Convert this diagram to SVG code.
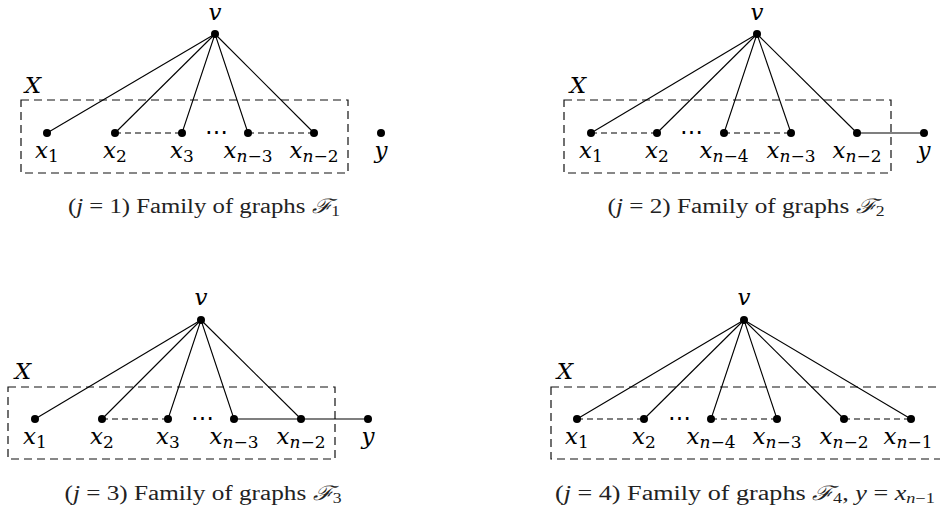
<svg xmlns="http://www.w3.org/2000/svg" width="940" height="511" viewBox="0 0 940 511">
<style>
.bg{fill:#fff}
.e{stroke:#000;stroke-width:1.1;fill:none}
.d{stroke:#000;stroke-width:1.1;fill:none;stroke-dasharray:6 4}
.box{stroke:#111;stroke-width:1.2;fill:none;stroke-dasharray:8 5}
.n{fill:#000}
.lb{font-family:"DejaVu Serif","Liberation Serif",serif;font-size:23px;fill:#000;text-anchor:middle}
.i{font-style:italic}
.sb{font-size:17px}
.cap{font-family:"Liberation Serif","DejaVu Serif",serif;font-size:20px;fill:#222;text-anchor:middle}
.cal{font-family:"DejaVu Serif",serif;font-style:italic}
</style>
<rect class="bg" width="940" height="511"/>

<!-- Panel boxes -->
<rect class="box" x="21" y="100" width="327" height="73"/>
<rect class="box" x="564" y="100" width="327" height="73"/>
<rect class="box" x="8" y="387" width="327" height="72"/>
<rect class="box" x="551" y="387" width="400" height="72"/>

<!-- X labels -->
<text class="lb i" x="33" y="93">X</text>
<text class="lb i" x="578" y="93">X</text>
<text class="lb i" x="23" y="379">X</text>
<text class="lb i" x="565" y="379">X</text>

<g id="connectors">
<!-- Panel 1 -->
<line class="e" x1="215" y1="34" x2="47" y2="133"/>
<line class="e" x1="215" y1="34" x2="115" y2="133"/>
<line class="e" x1="215" y1="34" x2="182" y2="133"/>
<line class="e" x1="215" y1="34" x2="248" y2="133"/>
<line class="e" x1="215" y1="34" x2="314" y2="133"/>
<line class="d" x1="115" y1="133" x2="182" y2="133"/>
<line class="d" x1="248" y1="133" x2="314" y2="133"/>
<!-- Panel 2 -->
<line class="e" x1="757" y1="34" x2="591" y2="133"/>
<line class="e" x1="757" y1="34" x2="657" y2="133"/>
<line class="e" x1="757" y1="34" x2="724" y2="133"/>
<line class="e" x1="757" y1="34" x2="791" y2="133"/>
<line class="e" x1="757" y1="34" x2="857" y2="133"/>
<line class="d" x1="591" y1="133" x2="657" y2="133"/>
<line class="d" x1="724" y1="133" x2="791" y2="133"/>
<line class="e" x1="857" y1="133" x2="924" y2="133"/>
<!-- Panel 3 -->
<line class="e" x1="201" y1="320" x2="35" y2="419"/>
<line class="e" x1="201" y1="320" x2="102" y2="419"/>
<line class="e" x1="201" y1="320" x2="168" y2="419"/>
<line class="e" x1="201" y1="320" x2="234" y2="419"/>
<line class="e" x1="201" y1="320" x2="301" y2="419"/>
<line class="d" x1="102" y1="419" x2="168" y2="419"/>
<line class="e" x1="234" y1="419" x2="301" y2="419"/>
<line class="e" x1="301" y1="419" x2="368" y2="419"/>
<!-- Panel 4 -->
<line class="e" x1="744" y1="320" x2="577" y2="419"/>
<line class="e" x1="744" y1="320" x2="644" y2="419"/>
<line class="e" x1="744" y1="320" x2="711" y2="419"/>
<line class="e" x1="744" y1="320" x2="777" y2="419"/>
<line class="e" x1="744" y1="320" x2="844" y2="419"/>
<line class="e" x1="744" y1="320" x2="911" y2="419"/>
<line class="d" x1="577" y1="419" x2="644" y2="419"/>
<line class="d" x1="711" y1="419" x2="777" y2="419"/>
<line class="d" x1="844" y1="419" x2="911" y2="419"/>
</g>

<!-- Panel 1 nodes -->
<g id="p1-v"><circle class="n" cx="215" cy="34" r="4"/><text class="lb i" x="215" y="20">v</text></g>
<g id="p1-x1"><circle class="n" cx="47" cy="133" r="4"/><text class="lb" x="47" y="158"><tspan class="i">x</tspan><tspan class="sb" dy="4">1</tspan></text></g>
<g id="p1-x2"><circle class="n" cx="115" cy="133" r="4"/><text class="lb" x="115" y="158"><tspan class="i">x</tspan><tspan class="sb" dy="4">2</tspan></text></g>
<g id="p1-x3"><circle class="n" cx="182" cy="133" r="4"/><text class="lb" x="182" y="158"><tspan class="i">x</tspan><tspan class="sb" dy="4">3</tspan></text></g>
<g id="p1-xn3"><circle class="n" cx="248" cy="133" r="4"/><text class="lb" x="248" y="158"><tspan class="i">x</tspan><tspan class="sb i" dy="4">n</tspan><tspan class="sb">−3</tspan></text></g>
<g id="p1-xn2"><circle class="n" cx="314" cy="133" r="4"/><text class="lb" x="314" y="158"><tspan class="i">x</tspan><tspan class="sb i" dy="4">n</tspan><tspan class="sb">−2</tspan></text></g>
<g id="p1-y"><circle class="n" cx="381" cy="133" r="4"/><text class="lb i" x="381" y="158">y</text></g>
<text class="lb" x="216" y="139">⋯</text>

<!-- Panel 2 nodes -->
<g id="p2-v"><circle class="n" cx="757" cy="34" r="4"/><text class="lb i" x="757" y="20">v</text></g>
<g id="p2-x1"><circle class="n" cx="591" cy="133" r="4"/><text class="lb" x="591" y="158"><tspan class="i">x</tspan><tspan class="sb" dy="4">1</tspan></text></g>
<g id="p2-x2"><circle class="n" cx="657" cy="133" r="4"/><text class="lb" x="657" y="158"><tspan class="i">x</tspan><tspan class="sb" dy="4">2</tspan></text></g>
<g id="p2-xn4"><circle class="n" cx="724" cy="133" r="4"/><text class="lb" x="724" y="158"><tspan class="i">x</tspan><tspan class="sb i" dy="4">n</tspan><tspan class="sb">−4</tspan></text></g>
<g id="p2-xn3"><circle class="n" cx="791" cy="133" r="4"/><text class="lb" x="791" y="158"><tspan class="i">x</tspan><tspan class="sb i" dy="4">n</tspan><tspan class="sb">−3</tspan></text></g>
<g id="p2-xn2"><circle class="n" cx="857" cy="133" r="4"/><text class="lb" x="857" y="158"><tspan class="i">x</tspan><tspan class="sb i" dy="4">n</tspan><tspan class="sb">−2</tspan></text></g>
<g id="p2-y"><circle class="n" cx="924" cy="133" r="4"/><text class="lb i" x="924" y="158">y</text></g>
<text class="lb" x="691" y="139">⋯</text>

<!-- Panel 3 nodes -->
<g id="p3-v"><circle class="n" cx="201" cy="320" r="4"/><text class="lb i" x="201" y="305">v</text></g>
<g id="p3-x1"><circle class="n" cx="35" cy="419" r="4"/><text class="lb" x="35" y="444"><tspan class="i">x</tspan><tspan class="sb" dy="4">1</tspan></text></g>
<g id="p3-x2"><circle class="n" cx="102" cy="419" r="4"/><text class="lb" x="102" y="444"><tspan class="i">x</tspan><tspan class="sb" dy="4">2</tspan></text></g>
<g id="p3-x3"><circle class="n" cx="168" cy="419" r="4"/><text class="lb" x="168" y="444"><tspan class="i">x</tspan><tspan class="sb" dy="4">3</tspan></text></g>
<g id="p3-xn3"><circle class="n" cx="234" cy="419" r="4"/><text class="lb" x="234" y="444"><tspan class="i">x</tspan><tspan class="sb i" dy="4">n</tspan><tspan class="sb">−3</tspan></text></g>
<g id="p3-xn2"><circle class="n" cx="301" cy="419" r="4"/><text class="lb" x="301" y="444"><tspan class="i">x</tspan><tspan class="sb i" dy="4">n</tspan><tspan class="sb">−2</tspan></text></g>
<g id="p3-y"><circle class="n" cx="368" cy="419" r="4"/><text class="lb i" x="368" y="444">y</text></g>
<text class="lb" x="202" y="425">⋯</text>

<!-- Panel 4 nodes -->
<g id="p4-v"><circle class="n" cx="744" cy="320" r="4"/><text class="lb i" x="744" y="305">v</text></g>
<g id="p4-x1"><circle class="n" cx="577" cy="419" r="4"/><text class="lb" x="577" y="444"><tspan class="i">x</tspan><tspan class="sb" dy="4">1</tspan></text></g>
<g id="p4-x2"><circle class="n" cx="644" cy="419" r="4"/><text class="lb" x="644" y="444"><tspan class="i">x</tspan><tspan class="sb" dy="4">2</tspan></text></g>
<g id="p4-xn4"><circle class="n" cx="711" cy="419" r="4"/><text class="lb" x="711" y="444"><tspan class="i">x</tspan><tspan class="sb i" dy="4">n</tspan><tspan class="sb">−4</tspan></text></g>
<g id="p4-xn3"><circle class="n" cx="777" cy="419" r="4"/><text class="lb" x="777" y="444"><tspan class="i">x</tspan><tspan class="sb i" dy="4">n</tspan><tspan class="sb">−3</tspan></text></g>
<g id="p4-xn2"><circle class="n" cx="844" cy="419" r="4"/><text class="lb" x="844" y="444"><tspan class="i">x</tspan><tspan class="sb i" dy="4">n</tspan><tspan class="sb">−2</tspan></text></g>
<g id="p4-xn1"><circle class="n" cx="911" cy="419" r="4"/><text class="lb" x="908" y="444"><tspan class="i">x</tspan><tspan class="sb i" dy="4">n</tspan><tspan class="sb">−1</tspan></text></g>
<text class="lb" x="679" y="425">⋯</text>

<!-- Captions -->
<text class="cap" x="204" y="213" textLength="272" lengthAdjust="spacingAndGlyphs">(<tspan class="i">j</tspan> = 1) Family of graphs <tspan class="cal">ℱ</tspan><tspan font-size="14" dy="3">1</tspan></text>
<text class="cap" x="746" y="213" textLength="277" lengthAdjust="spacingAndGlyphs">(<tspan class="i">j</tspan> = 2) Family of graphs <tspan class="cal">ℱ</tspan><tspan font-size="14" dy="3">2</tspan></text>
<text class="cap" x="203" y="500" textLength="277" lengthAdjust="spacingAndGlyphs">(<tspan class="i">j</tspan> = 3) Family of graphs <tspan class="cal">ℱ</tspan><tspan font-size="14" dy="3">3</tspan></text>
<text class="cap" x="745" y="500" textLength="380" lengthAdjust="spacingAndGlyphs">(<tspan class="i">j</tspan> = 4) Family of graphs <tspan class="cal">ℱ</tspan><tspan font-size="14" dy="3">4</tspan><tspan dy="-3">, </tspan><tspan class="i">y</tspan> = <tspan class="i">x</tspan><tspan font-size="14" dy="3" class="i">n</tspan><tspan font-size="14">−1</tspan></text>
</svg>
